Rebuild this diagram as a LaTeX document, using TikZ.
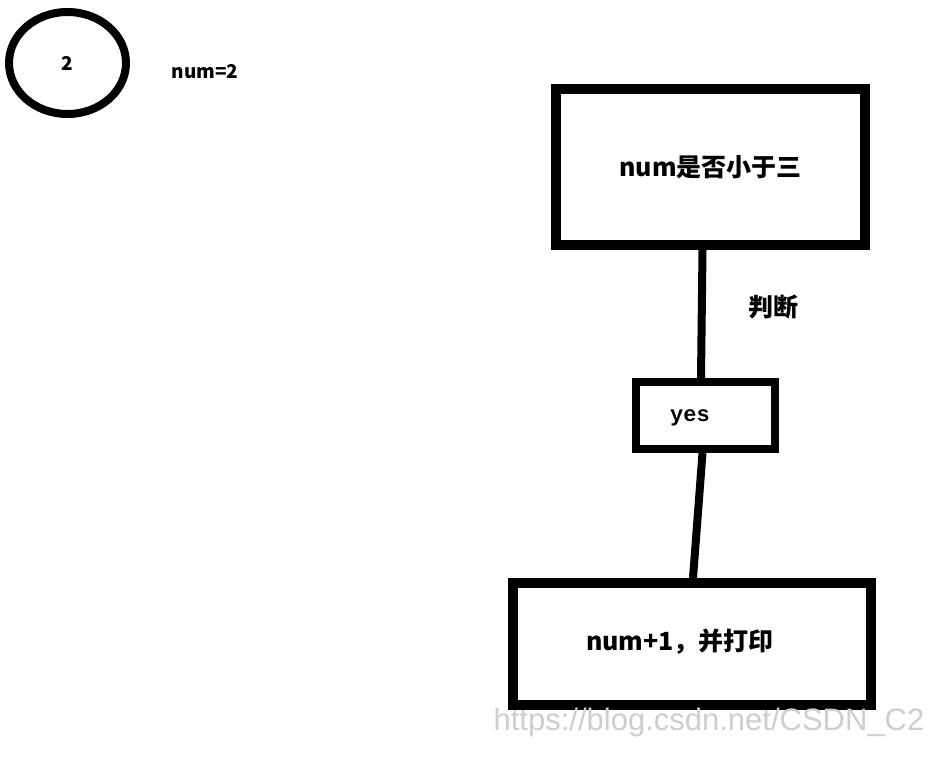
\documentclass[tikz,border=0pt]{standalone}
\usepackage{fontspec}
\setmainfont{Noto Sans CJK SC}
\newfontfamily\monob{Liberation Mono}
\newfontfamily\wmark{Liberation Sans}
\usetikzlibrary{shapes.geometric}
\definecolor{wm}{RGB}{205,205,210}
\tikzset{
  thickbox/.style={draw=black, line width=10pt, inner sep=0pt, rectangle},
  smallbox/.style={draw=black, line width=8pt, inner sep=0pt, rectangle},
  conn/.style={draw=black, line width=8pt},
  lab/.style={inner sep=0pt, font=\bfseries\fontsize{25}{28}\selectfont}
}
\begin{document}
\begin{tikzpicture}[x=1pt,y=-1pt]
\useasboundingbox[fill=white] (0,0) rectangle (948,762);
% circle
\node[ellipse, draw=black, line width=8pt, minimum width=117pt, minimum height=102pt, inner sep=0pt,
      font=\bfseries\fontsize{19}{22}\selectfont] (c) at (67.5,63) {2};
\node[inner sep=0pt, font=\bfseries\fontsize{19}{22}\selectfont] (numtxt) at (205,72) {num=2};
% boxes
\node[thickbox, minimum width=309pt, minimum height=156pt, lab] (top) at (710.5,167) {num是否小于三};
\node[smallbox, minimum width=139pt, minimum height=67pt, inner sep=0pt] (yes) at (705.5,415.5) {};
\node[inner sep=0pt, font=\monob\bfseries\fontsize{22}{24}\selectfont] (yestxt) at (690,418) {yes};
\node[thickbox, minimum width=358pt, minimum height=122pt] (bot) at (692,644) {};
\node[lab] (bottxt) at (680,642) {num+1，并打印};
% label
\node[lab] (pd) at (773,307) {判断};
% connectors
\draw[conn] ([xshift=-8pt]top.south) -- ([xshift=-4.5pt]yes.north);
\draw[conn] ([xshift=-3pt]yes.south) -- ([xshift=1pt]bot.north);
% watermark
\node[inner sep=0pt, text=wm, font=\wmark\fontsize{31}{34}\selectfont] (wmk) at (709,722) {https://blog.csdn.net/CSDN\_C2};
\end{tikzpicture}
\end{document}
